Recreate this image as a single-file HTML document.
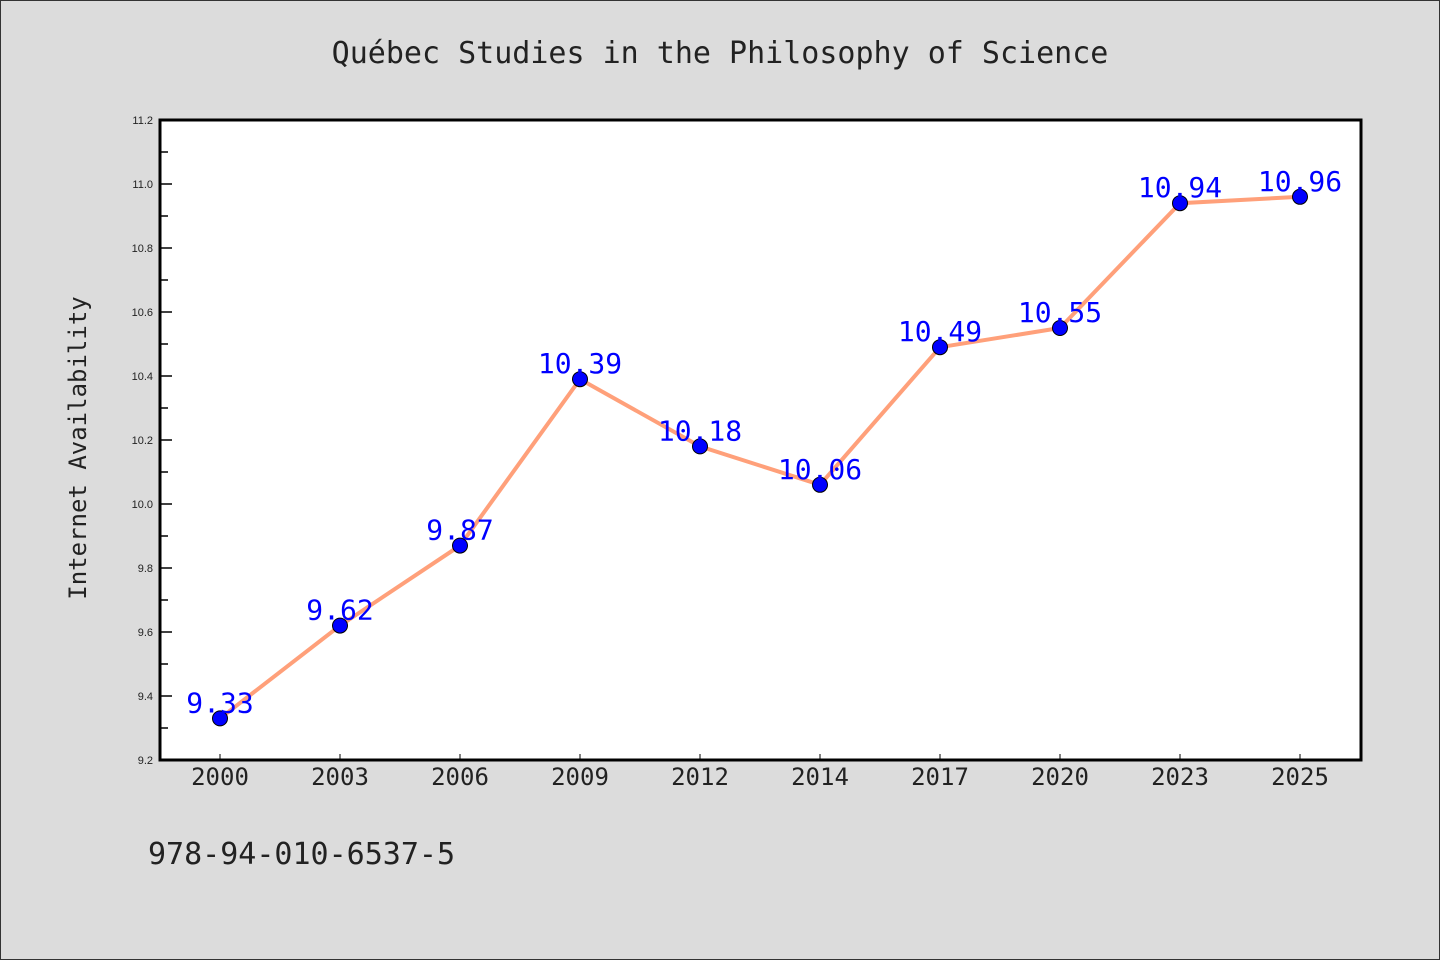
<!DOCTYPE html>
<html><head><meta charset="utf-8"><style>
body{margin:0;background:#dcdcdc;}
svg{display:block;font-family:"WenQuanYi Zen Hei Mono","DejaVu Sans Mono","Liberation Mono",monospace;}
</style></head><body>
<svg width="1440" height="960">
<rect x="0.5" y="0.5" width="1439" height="959" fill="#dcdcdc" stroke="#333"/>
<text x="720" y="63" font-size="30" text-anchor="middle" fill="#222">Québec Studies in the Philosophy of Science</text>
<rect x="160" y="120" width="1201" height="640" fill="#fff"/>
<g id="axes"></g>
<g id="marks"></g>
<rect x="160" y="120" width="1201" height="640" fill="none" stroke="#000" stroke-width="3"/>
<text x="86" y="448" font-size="24" text-anchor="middle" fill="#222" transform="rotate(-90 86 448)">Internet Availability</text>
<text x="148" y="864" font-size="30" fill="#222">978-94-010-6537-5</text>
</svg>
<script>
const categories=["2000","2003","2006","2009","2012","2014","2017","2020","2023","2025"];
const values=[9.33,9.62,9.87,10.39,10.18,10.06,10.49,10.55,10.94,10.96];
const labels=["9.33","9.62","9.87","10.39","10.18","10.06","10.49","10.55","10.94","10.96"];
const yTicks=[9.2,9.4,9.6,9.8,10.0,10.2,10.4,10.6,10.8,11.0,11.2];
const yMin=9.2,yMax=11.2,plotTop=120,plotBottom=760,plotLeft=160,plotRight=1361;
const NS="http://www.w3.org/2000/svg";
const yScale=v=>plotBottom-(v-yMin)/(yMax-yMin)*(plotBottom-plotTop);
const xScale=i=>220+i*(1300-220)/(categories.length-1);
function mk(tag,attrs,parent){const e=document.createElementNS(NS,tag);for(const k in attrs)e.setAttribute(k,attrs[k]);parent.appendChild(e);return e;}
const axes=document.getElementById('axes'),marks=document.getElementById('marks');
yTicks.forEach((t,i)=>{
 const l=mk('line',{x1:plotLeft,x2:plotLeft+12,y1:yScale(t),y2:yScale(t),stroke:'#000','stroke-width':1.5},axes);
 
 
 const tx=mk('text',{x:plotLeft-7,y:yScale(t)+4,'font-size':11,'text-anchor':'end',fill:'#222','font-family':'"Liberation Sans",sans-serif'},axes);
 tx.textContent=t.toFixed(1);
 
 
 if(i<yTicks.length-1){
  const m=mk('line',{x1:plotLeft,x2:plotLeft+8,y1:yScale(t+0.1),y2:yScale(t+0.1),stroke:'#000','stroke-width':1.5},axes);
  
  
 }
});
categories.forEach((c,i)=>{
 const l=mk('line',{x1:xScale(i),x2:xScale(i),y1:plotBottom,y2:plotBottom-6,stroke:'#000','stroke-width':1},axes);
 
 
 const tx=mk('text',{x:xScale(i),y:plotBottom+25,'font-size':24,'text-anchor':'middle',fill:'#222'},axes);
 tx.textContent=c;
 
 
});
const line=mk('polyline',{points:values.map((v,i)=>xScale(i)+','+yScale(v)).join(' '),fill:'none',stroke:'#ffa07a','stroke-width':4},marks);


values.forEach((v,i)=>{
 const c=mk('circle',{cx:xScale(i),cy:yScale(v),r:7.5,fill:'#0000ff',stroke:'#000','stroke-width':1},marks);
 
 
 const t=mk('text',{x:xScale(i),y:yScale(v)-6,'font-size':28,'text-anchor':'middle',fill:'#0000ff'},marks);
 t.textContent=labels[i];
 
 
});
</script>
</body></html>
